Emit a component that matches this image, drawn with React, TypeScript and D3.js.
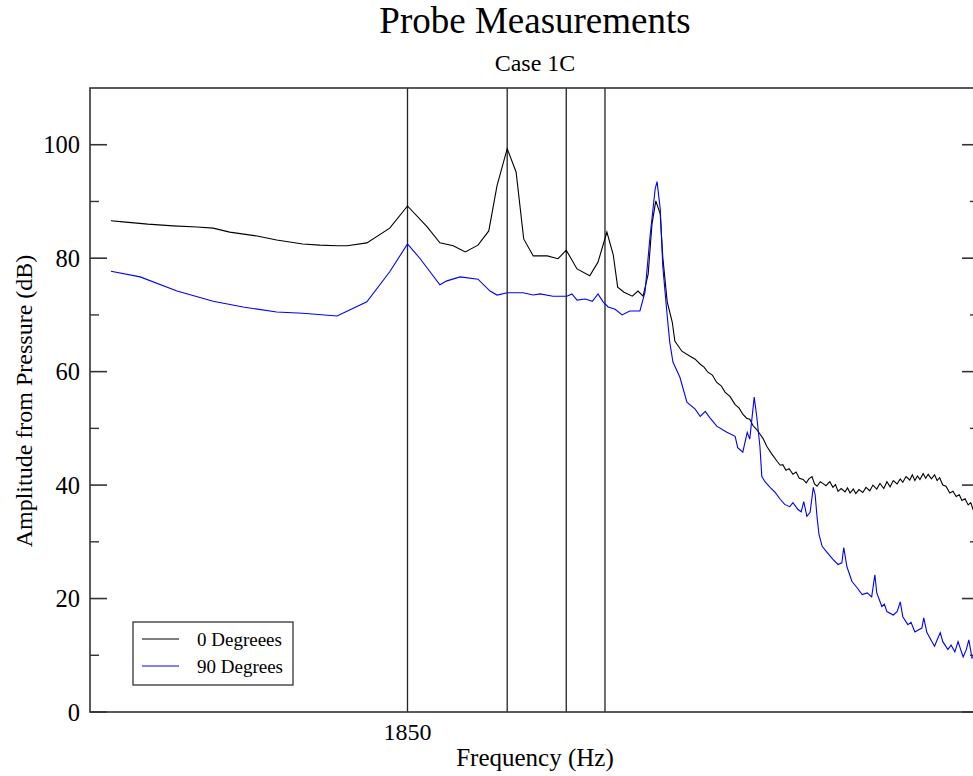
import React from "react";
import * as d3 from "d3";

// ---- Data ----
const title = "Probe Measurements";
const subtitle = "Case 1C";
const xLabel = "Frequency (Hz)";
const yLabel = "Amplitude from Pressure (dB)";
const xDomain = [1800, 1940];
const yDomain = [0, 110];
const yMajorTicks = [0, 20, 40, 60, 80, 100];
const yMinorTicks = [10, 30, 50, 70, 90];
const xTickLabels = [1850];
const markerFreqs = [1850, 1865.7, 1875.0, 1881.1];

const seriesNames = ["0 Degreees", "90 Degrees"];
const seriesColors = ["#000000", "#0000ff"];

const freq0 = [
  1803.3, 1805.2, 1809.1, 1813.1, 1816.9, 1819.4, 1822.0, 1826.3, 1829.4, 1833.5, 1836.2, 1838.9,
  1840.5, 1843.6, 1847.2, 1850.0, 1853.1, 1855.1, 1857.2, 1859.1, 1861.1, 1862.8, 1864.1, 1865.7,
  1867.1, 1868.3, 1869.8, 1872.0, 1873.7, 1875.0, 1876.7, 1878.7, 1880.0, 1881.4, 1882.4, 1883.1,
  1884.1, 1885.4, 1886.3, 1887.1, 1887.9, 1888.5, 1889.1, 1889.8, 1890.2, 1890.9, 1891.7, 1892.1,
  1893.2, 1894.5, 1895.3, 1896.1, 1896.7, 1897.3, 1898.0, 1898.7, 1899.4, 1900.0, 1900.8, 1901.6,
  1902.2, 1902.8, 1903.4, 1903.9, 1904.4, 1905.0, 1905.5, 1906.0, 1906.6, 1907.3, 1908.2, 1908.7,
  1909.1, 1909.6, 1910.1, 1910.7, 1911.2, 1911.7, 1912.3, 1912.8, 1913.2, 1913.7, 1914.1, 1914.5,
  1915.0, 1915.4, 1915.9, 1916.5, 1917.0, 1917.4, 1917.8, 1918.3, 1918.9, 1919.3, 1919.7, 1920.2,
  1920.6, 1921.1, 1921.7, 1922.2, 1922.8, 1923.3, 1923.9, 1924.4, 1925.0, 1925.5, 1926.0, 1926.5,
  1927.1, 1927.6, 1928.0, 1928.5, 1929.1, 1929.5, 1929.9, 1930.3, 1930.7, 1931.2, 1931.6, 1932.0,
  1932.5, 1933.0, 1933.4, 1933.8, 1934.3, 1934.8, 1935.4, 1935.9, 1936.4, 1936.9, 1937.3, 1937.8,
  1938.3, 1938.7, 1939.1, 1939.6,
];
const amp0 = [
  86.6, 86.4, 86.0, 85.7, 85.5, 85.3, 84.6, 83.9, 83.2, 82.5, 82.3, 82.2,
  82.2, 82.7, 85.3, 89.2, 85.5, 82.7, 82.2, 81.1, 82.3, 84.8, 92.8, 99.3,
  95.2, 83.4, 80.4, 80.4, 79.9, 81.4, 78.1, 76.9, 79.3, 84.6, 80.6, 74.9,
  74.0, 73.3, 74.2, 73.3, 77.2, 86.0, 90.1, 87.8, 80.2, 72.3, 68.7, 65.4,
  63.6, 62.7, 62.2, 61.3, 60.8, 59.9, 59.4, 58.1, 57.5, 56.4, 55.6, 54.2,
  53.6, 52.5, 51.8, 51.6, 50.5, 49.8, 49.0, 48.2, 46.8, 45.6, 44.2, 43.5,
  43.6, 42.6, 42.9, 41.9, 42.3, 41.2, 41.0, 40.4, 41.1, 41.5, 40.2, 39.8,
  40.6, 40.3, 39.9, 40.6, 39.6, 40.1, 38.9, 39.4, 38.8, 39.5, 38.6, 39.3,
  38.5, 39.2, 38.7, 39.6, 39.0, 40.0, 39.3, 40.3, 39.4, 40.6, 39.7, 40.8,
  40.2, 41.1, 40.5, 41.5, 40.9, 41.8, 40.8, 41.6, 41.0, 42.0, 41.2, 41.9,
  41.1, 41.8, 40.8, 41.3, 40.0, 39.8, 38.6, 38.9, 38.0, 38.3, 37.3, 37.6,
  36.5, 36.9, 35.6, 35.9,
];

const freq90 = [
  1803.3, 1807.9, 1813.7, 1819.4, 1824.1, 1829.4, 1833.5, 1838.9, 1843.6, 1847.2, 1850.0, 1852.0,
  1855.1, 1856.2, 1858.3, 1861.1, 1863.0, 1864.1, 1865.7, 1868.2, 1869.8, 1870.9, 1872.9, 1875.1,
  1875.9, 1876.7, 1878.0, 1879.1, 1880.0, 1880.8, 1881.6, 1882.7, 1883.8, 1885.0, 1886.6, 1887.4,
  1888.2, 1889.0, 1889.3, 1889.8, 1890.2, 1890.9, 1891.3, 1891.8, 1892.9, 1894.0, 1895.3, 1896.1,
  1896.9, 1897.6, 1898.7, 1900.3, 1901.6, 1902.0, 1902.8, 1903.5, 1903.9, 1904.6, 1905.0, 1905.5,
  1905.8, 1906.3, 1907.1, 1907.9, 1908.7, 1909.4, 1910.2, 1910.7, 1911.5, 1912.0, 1912.4, 1912.9,
  1913.4, 1913.9, 1914.2, 1914.5, 1914.8, 1915.3, 1916.1, 1917.0, 1917.8, 1918.4, 1918.7, 1919.2,
  1920.0, 1920.8, 1921.6, 1922.4, 1923.1, 1923.6, 1923.9, 1924.7, 1925.1, 1925.5, 1926.5, 1927.1,
  1927.6, 1928.0, 1928.8, 1929.3, 1929.9, 1931.0, 1931.3, 1931.8, 1932.6, 1933.0, 1933.4, 1933.9,
  1934.3, 1935.1, 1935.6, 1936.2, 1936.7, 1937.5, 1938.0, 1938.4, 1938.9, 1939.4,
];
const amp90 = [
  77.7, 76.7, 74.2, 72.4, 71.4, 70.5, 70.3, 69.8, 72.3, 77.6, 82.5, 79.9,
  75.3, 76.0, 76.7, 76.3, 74.2, 73.5, 73.9, 73.9, 73.5, 73.7, 73.3, 73.3,
  73.7, 72.6, 72.8, 72.4, 73.7, 72.3, 71.4, 71.0, 70.0, 70.7, 70.7, 74.0,
  83.9, 92.2, 93.5, 88.7, 78.6, 69.8, 65.2, 61.7, 59.0, 54.6, 53.4, 52.1,
  53.0, 51.9, 50.4, 49.3, 48.6, 46.6, 45.8, 49.3, 48.1, 55.5, 52.1, 46.8,
  41.5, 40.6, 39.6, 38.7, 37.5, 36.6, 36.2, 36.9, 35.7, 35.3, 37.1, 34.5,
  35.2, 39.6, 38.3, 34.3, 31.3, 29.2, 28.1, 26.9, 26.0, 26.3, 29.0, 25.6,
  23.0, 21.9, 20.7, 21.0, 20.3, 24.2, 21.0, 18.6, 19.0, 17.7, 17.1, 17.7,
  19.4, 16.8, 15.4, 15.8, 14.1, 14.8, 16.6, 14.0, 12.4, 11.6, 12.7, 14.0,
  12.4, 11.0, 11.8, 10.6, 12.4, 9.7, 11.0, 12.7, 9.5, 10.1,
];

// ---- Layout ----
const W = 973;
const H = 776;
const M = { left: 90, top: 88, right: 979, bottom: 712 };
const FONT = "'Liberation Serif', 'Times New Roman', serif";

export default function App() {
  const x = d3.scaleLinear().domain(xDomain).range([M.left, M.right]);
  const y = d3.scaleLinear().domain(yDomain).range([M.bottom, M.top]);

  const line = d3
    .line<[number, number]>()
    .x((d) => x(d[0]))
    .y((d) => y(d[1]));

  const s0 = freq0.map((f, i) => [f, amp0[i]] as [number, number]);
  const s90 = freq90.map((f, i) => [f, amp90[i]] as [number, number]);

  const legendX = 133;
  const legendY = 622;

  return (
    <svg
      width={W}
      height={H}
      style={{ position: "absolute", left: 0, top: 0, background: "#fff" }}
      fontFamily={FONT}
    >
      <rect x={0} y={0} width={W} height={H} fill="#fff" />
      <defs>
        <clipPath id="plotClip">
          <rect x={M.left} y={M.top} width={M.right - M.left} height={M.bottom - M.top} />
        </clipPath>
      </defs>

      {/* Title */}
      <text x={535} y={33} textAnchor="middle" fontSize={37} fill="#000">
        {title}
      </text>
      <text x={535} y={71} textAnchor="middle" fontSize={24} fill="#000">
        {subtitle}
      </text>

      {/* Marker vertical lines */}
      {markerFreqs.map((f) => (
        <line
          key={f}
          x1={x(f)}
          x2={x(f)}
          y1={M.top}
          y2={M.bottom}
          stroke="#222"
          strokeWidth={1.3}
        />
      ))}

      {/* Series */}
      <g clipPath="url(#plotClip)">
        <path d={line(s0) || ""} fill="none" stroke={seriesColors[0]} strokeWidth={1.1} />
        <path d={line(s90) || ""} fill="none" stroke={seriesColors[1]} strokeWidth={1.1} />
      </g>

      {/* Frame */}
      <rect
        x={M.left}
        y={M.top}
        width={M.right - M.left}
        height={M.bottom - M.top}
        fill="none"
        stroke="#333"
        strokeWidth={1.6}
      />

      {/* Y ticks */}
      {yMajorTicks.map((t) => (
        <g key={"ma" + t}>
          <line x1={M.left} x2={M.left + 17} y1={y(t)} y2={y(t)} stroke="#333" strokeWidth={1.6} />
          <line x1={M.right} x2={M.right - 17} y1={y(t)} y2={y(t)} stroke="#333" strokeWidth={1.6} />
          <text x={80} y={y(t)} dy="0.35em" textAnchor="end" fontSize={24.5} fill="#000">
            {t}
          </text>
        </g>
      ))}
      {yMinorTicks.map((t) => (
        <g key={"mi" + t}>
          <line x1={M.left} x2={M.left + 9} y1={y(t)} y2={y(t)} stroke="#333" strokeWidth={1.4} />
          <line x1={M.right} x2={M.right - 9} y1={y(t)} y2={y(t)} stroke="#333" strokeWidth={1.4} />
        </g>
      ))}

      {/* X tick labels */}
      {xTickLabels.map((t) => (
        <text key={t} x={x(t)} y={740} textAnchor="middle" fontSize={24} fill="#000">
          {t}
        </text>
      ))}

      {/* Axis labels */}
      <text x={535} y={766} textAnchor="middle" fontSize={25} fill="#000">
        {xLabel}
      </text>
      <text
        transform={`translate(32, 401) rotate(-90)`}
        textAnchor="middle"
        fontSize={24}
        fill="#000"
      >
        {yLabel}
      </text>

      {/* Legend */}
      <rect x={legendX} y={legendY} width={160} height={63} fill="#fff" stroke="#333" strokeWidth={1.3} />
      {seriesNames.map((name, i) => (
        <g key={name}>
          <line
            x1={legendX + 9}
            x2={legendX + 46}
            y1={legendY + 17 + i * 27}
            y2={legendY + 17 + i * 27}
            stroke={seriesColors[i]}
            strokeWidth={1.2}
          />
          <text x={legendX + 64} y={legendY + 17 + i * 27} dy="0.35em" fontSize={19} fill="#000">
            {name}
          </text>
        </g>
      ))}
    </svg>
  );
}
